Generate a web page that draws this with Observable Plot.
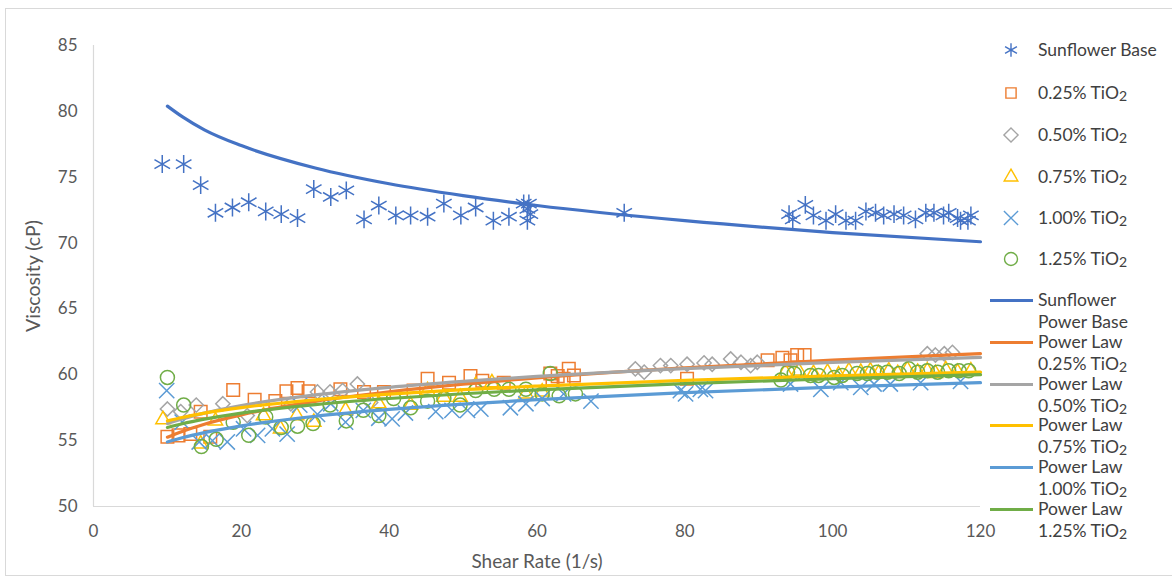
<!DOCTYPE html>
<html>
<head>
<meta charset="utf-8">
<script src="https://cdn.jsdelivr.net/npm/d3@7"></script>
<script src="https://cdn.jsdelivr.net/npm/@observablehq/plot@0.6"></script>
<style>
  html, body { margin: 0; padding: 0; background: #fff; }
  #wrap { position: relative; width: 1172px; height: 579px; overflow: hidden; font-family: Lato, "Open Sans", sans-serif; }
  #border { position: absolute; left: 5px; top: 8px; width: 1175px; height: 568px; border: 1px solid #d9d9d9; box-sizing: border-box; }
  #chart { position: absolute; left: 0; top: 0; }
  .leg { position: absolute; font-size: 17.5px; color: #404040; white-space: nowrap; line-height: 22px; }
  .leg sub { font-size: 0.8em; vertical-align: -0.15em; line-height: 0; }
  .sym { position: absolute; }
  .lline { position: absolute; height: 3px; width: 43px; }
</style>
</head>
<body>
<div id="wrap"><div id="border"></div><div id="chart"></div><div id="legend"></div></div>
<script>
// ---------- data ----------
const xTicks = [0, 20, 40, 60, 80, 100, 120];
const yTicks = [50, 55, 60, 65, 70, 75, 80, 85];

const sunX = [9.3,12.2,14.5,16.5,18.8,21.0,23.3,25.4,27.6,29.8,32.1,34.2,36.6,38.6,40.9,42.9,45.2,47.4,49.7,51.7,54.1,56.2,58.2,58.9,58.7,59.1,58.7,71.8,94.1,94.6,96.3,97.4,99.1,100.4,101.8,103.1,104.5,105.8,106.9,108.3,109.6,111.2,112.6,113.7,115.0,115.7,116.9,117.3,118.3,118.7];
const sunY = [76.0,76.0,74.4,72.3,72.7,73.1,72.4,72.2,71.9,74.1,73.5,74.0,71.8,72.85,72.1,72.1,72.0,73.0,72.1,72.7,71.7,72.0,73.0,73.0,72.6,72.2,71.7,72.3,72.2,71.8,72.9,72.1,71.7,72.2,71.7,71.7,72.4,72.3,72.1,72.2,72.1,71.8,72.3,72.3,72.1,72.3,71.9,71.7,71.7,72.1];

const t25X = [10.0,11.5,13.1,14.5,15.8,18.9,21.8,24.6,26.1,27.6,29.1,33.4,36.6,39.3,43.3,45.2,48.1,51.0,52.6,55.5,61.8,62.1,62.8,63.6,64.3,65.0,80.3,91.2,93.2,94.3,95.2,96.2];
const t25Y = [55.3,55.4,55.5,57.2,55.3,58.85,58.1,58.0,58.75,59.0,58.75,58.9,58.7,58.7,58.8,59.7,59.4,59.9,59.55,59.4,60.1,59.4,59.9,59.7,60.45,59.95,59.7,61.1,61.3,61.1,61.5,61.5];

const t50X = [10.0,11.8,13.9,17.5,20.8,26.7,30.3,32.0,33.7,35.7,37.5,73.3,74.5,76.7,78.1,80.3,82.6,83.7,86.2,87.6,88.9,89.8,112.8,113.9,115.1,116.2];
const t50Y = [57.4,57.2,57.7,57.8,56.9,57.8,58.7,58.7,58.8,59.3,57.9,60.45,60.2,60.7,60.7,60.8,60.9,60.8,61.2,60.95,60.7,60.95,61.6,61.5,61.6,61.7];

const t75X = [9.4,14.5,16.5,23.0,25.3,27.5,29.8,34.1,38.6,42.9,45.2,47.4,49.6,51.7,53.9,58.5,60.7,93.6,95.4,97.4,99.3,100.8,102.2,103.8,105.1,106.2,107.6,108.8,110.1,111.5,112.8,113.9,115.3,116.9,118.7];
const t75Y = [56.6,54.75,56.5,56.9,55.9,56.9,56.4,57.3,57.8,57.7,58.8,58.3,58.3,59.2,59.4,58.55,58.7,60.2,60.3,60.1,60.2,60.0,60.3,60.2,60.3,60.1,60.3,60.1,60.4,60.2,60.3,60.1,60.4,60.2,60.3];

const t100X = [9.9,12.0,14.3,16.1,18.1,20.3,22.2,24.2,26.2,27.9,30.3,32.1,34.1,36.5,38.6,40.4,42.2,46.3,48.5,50.6,52.4,56.4,58.5,60.7,63.6,67.3,79.4,80.1,82.1,82.8,94.3,98.4,101.1,103.8,105.6,107.8,111.9,117.3];
const t100Y = [58.8,56.4,54.9,55.0,54.9,55.9,55.4,55.9,55.5,57.7,57.0,57.8,56.4,57.3,56.7,56.65,57.1,57.2,57.3,57.3,57.4,57.5,57.8,58.2,58.55,58.0,58.8,58.55,58.9,58.8,59.3,58.9,59.4,59.05,59.3,59.3,59.4,59.5];

const t125X = [10.0,12.2,14.6,16.6,18.9,21.0,23.3,25.4,27.6,29.7,32.0,34.2,36.5,38.6,40.6,42.9,45.2,47.4,49.6,51.7,54.2,56.2,58.5,60.7,61.8,63.0,65.2,93.0,93.9,94.8,97.0,98.1,100.2,101.3,103.3,104.7,106.0,107.4,109.0,110.3,111.5,112.8,114.2,115.7,117.1,118.4];
const t125Y = [59.8,57.7,54.55,55.1,56.4,55.4,56.8,56.0,56.1,56.3,57.7,56.5,57.3,56.9,58.2,57.5,58.0,58.2,57.7,58.8,58.9,58.9,58.9,58.55,60.1,58.4,58.55,59.6,60.2,60.1,59.95,59.95,59.8,59.95,60.1,60.1,60.2,60.2,60.1,60.45,60.2,60.3,60.2,60.3,60.3,60.3];

// power-law trend lines, read at these shear rates
const fitX = [10, 12, 15, 20, 30, 40, 50, 60, 80, 100, 120];
const fitSun  = [80.4, 79.6, 78.6, 77.4, 75.7, 74.5, 73.6, 72.85, 71.7, 70.8, 70.1];
const fit25   = [55.26, 55.7, 56.25, 56.96, 57.98, 58.71, 59.29, 59.76, 60.52, 61.11, 61.6];
const fit50   = [56.3, 56.65, 57.09, 57.66, 58.47, 59.05, 59.5, 59.88, 60.47, 60.94, 61.32];
const fit75   = [56.5, 56.76, 57.09, 57.51, 58.1, 58.53, 58.87, 59.14, 59.58, 59.92, 60.2];
const fit100  = [54.9, 55.22, 55.61, 56.12, 56.85, 57.37, 57.77, 58.11, 58.64, 59.06, 59.4];
const fit125  = [56.0, 56.28, 56.63, 57.09, 57.74, 58.2, 58.56, 58.86, 59.33, 59.7, 60.01];

const markerNames = ["Sunflower Base", "0.25% TiO2", "0.50% TiO2", "0.75% TiO2", "1.00% TiO2", "1.25% TiO2"];
const lineNames = [["Sunflower", "Power Base"], ["Power Law", "0.25% TiO2"], ["Power Law", "0.50% TiO2"], ["Power Law", "0.75% TiO2"], ["Power Law", "1.00% TiO2"], ["Power Law", "1.25% TiO2"]];
const colors = ["#4472C4", "#ED7D31", "#A5A5A5", "#FFC000", "#5B9BD5", "#70AD47"];

// ---------- build ----------
const series = [
  {xs: sunX, ys: sunY, symbol: "asterisk", r: 8.5, color: colors[0], fit: fitSun},
  {xs: t25X, ys: t25Y, symbol: "square2", r: 8.0, color: colors[1], fit: fit25},
  {xs: t50X, ys: t50Y, symbol: "diamond2", r: 6.4, color: colors[2], fit: fit50},
  {xs: t75X, ys: t75Y, symbol: "triangle2", r: 6.8, color: colors[3], fit: fit75},
  {xs: t100X, ys: t100Y, symbol: "times", r: 7.0, color: colors[4], fit: fit100},
  {xs: t125X, ys: t125Y, symbol: "circle", r: 7.0, color: colors[5], fit: fit125}
];

const marks = [
  Plot.ruleX([0], {stroke: "#d9d9d9", strokeWidth: 1.2}),
  Plot.ruleY([50], {stroke: "#d9d9d9", strokeWidth: 1.2}),
  Plot.axisX(xTicks, {tickSize: 0, tickPadding: 18, fontSize: 17, fill: "#595959", label: null}),
  Plot.axisY(yTicks, {tickSize: 0, tickPadding: 16, fontSize: 17, fill: "#595959", label: null}),
];
series.forEach(s => {
  marks.push(Plot.dot(s.xs.map((x, i) => ({x, y: s.ys[i]})), {x: "x", y: "y", symbol: () => s.symbol, r: s.r, stroke: s.color, strokeWidth: 1.5, fill: "none"}));
});
series.forEach(s => {
  marks.push(Plot.line(fitX.map((x, i) => ({x, y: s.fit[i]})), {x: "x", y: "y", stroke: s.color, strokeWidth: 3.2, curve: "monotone-x"}));
});
marks.push(Plot.text(["Viscosity (cP)"], {frameAnchor: "left", textAnchor: "middle", dx: -60, rotate: -90, fontSize: 19.5, fill: "#595959"}));
marks.push(Plot.text(["Shear Rate (1/s)"], {frameAnchor: "bottom", dy: 61, fontSize: 19, fill: "#595959"}));

const chart = Plot.plot({
  width: 1172, height: 579,
  marginLeft: 93, marginTop: 45, marginRight: 192, marginBottom: 73,
  style: {fontFamily: "Lato, 'Open Sans', sans-serif", background: "transparent"},
  x: {domain: [0, 120]},
  y: {domain: [50, 85]},
  symbol: {type: "identity"},
  marks
});
document.getElementById("chart").appendChild(chart);

// ---------- legend ----------
const leg = document.getElementById("legend");
const fmt = t => t.replace("TiO2", "TiO<sub>2</sub>");
const symMap = {asterisk: d3.symbolAsterisk, square2: d3.symbolSquare2, diamond2: d3.symbolDiamond2, triangle2: d3.symbolTriangle2, times: d3.symbolTimes, circle: d3.symbolCircle};
const markerRows = [50, 93, 135, 177, 218, 259];
series.forEach((s, i) => {
  const cy = markerRows[i];
  const rr = Math.min(s.r, 6.5);
  const svg = d3.create("svg").attr("class", "sym").attr("width", 24).attr("height", 24)
    .style("left", (1011 - 12) + "px").style("top", (cy - 12) + "px");
  svg.append("path").attr("transform", "translate(12,12)")
    .attr("d", d3.symbol(symMap[s.symbol], Math.PI * rr * rr)())
    .attr("fill", "none").attr("stroke", s.color).attr("stroke-width", 1.4);
  leg.appendChild(svg.node());
  const d = document.createElement("div");
  d.className = "leg"; d.style.left = "1038px"; d.style.top = (cy - 11) + "px";
  d.innerHTML = fmt(markerNames[i]);
  leg.appendChild(d);
});
const lineRows = [300, 342, 384, 425, 467, 509];
series.forEach((s, i) => {
  const cy = lineRows[i];
  const l = document.createElement("div");
  l.className = "lline"; l.style.left = "990px"; l.style.top = (cy - 1.5) + "px"; l.style.background = s.color;
  leg.appendChild(l);
  const d = document.createElement("div");
  d.className = "leg"; d.style.left = "1038px"; d.style.top = (cy - 11) + "px";
  d.innerHTML = fmt(lineNames[i][0]) + "<br>" + fmt(lineNames[i][1]);
  leg.appendChild(d);
});
</script>
</body>
</html>
